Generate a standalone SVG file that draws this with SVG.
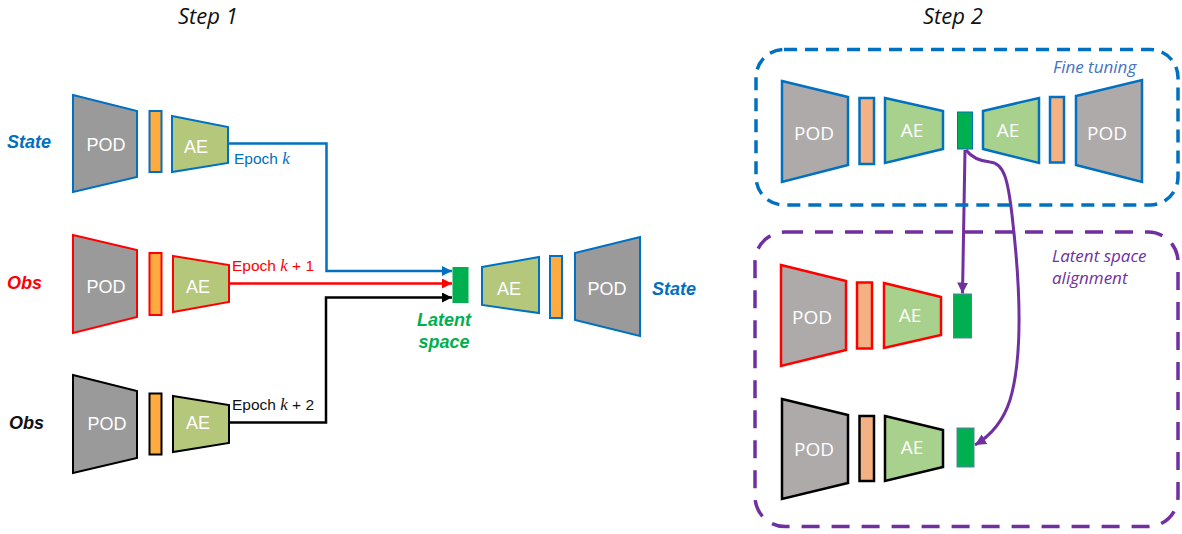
<svg xmlns="http://www.w3.org/2000/svg" width="1182" height="534" viewBox="0 0 1182 534">
<style>
.title{font-family:"Open Sans","Liberation Sans",sans-serif;font-style:italic;font-size:22px;fill:#111}
.lbl{font-family:"Liberation Sans",Arial,sans-serif;font-weight:bold;font-style:italic;font-size:18px}
.w1{font-family:"Liberation Sans",Arial,sans-serif;font-size:18px;fill:#fff;text-anchor:middle}
.w2{font-family:"Open Sans","Liberation Sans",sans-serif;font-size:19px;fill:#fff;text-anchor:middle}
.ep{font-family:"Liberation Sans",Arial,sans-serif;font-size:15.5px}
.mk{font-family:"Liberation Serif","Times New Roman",serif;font-style:italic}
.note{font-family:"Open Sans","Liberation Sans",sans-serif;font-style:italic;font-size:17px}
.pod1{fill:#9a9a9a;stroke-width:2}
.bar1{fill:#ffab40;stroke-width:2}
.ae1{fill:#b5c77b;stroke-width:2}
.pod2{fill:#aeaaaa;stroke-width:2.5}
.bar2{fill:#f4b183;stroke-width:2.5}
.ae2{fill:#a9d18e;stroke-width:2.5}
.lat{fill:#00b050}
.blue{stroke:#0070c0}
.red{stroke:#ff0000}
.blk{stroke:#000000}
.conn{fill:none;stroke-width:2.5}
</style>
<defs>
<marker id="ab" viewBox="0 0 10 10" refX="10" refY="5" markerWidth="11" markerHeight="10" markerUnits="userSpaceOnUse" orient="auto"><path d="M0,0 L10,5 L0,10 z" fill="#0070c0"/></marker>
<marker id="ar" viewBox="0 0 10 10" refX="10" refY="5" markerWidth="11" markerHeight="10" markerUnits="userSpaceOnUse" orient="auto"><path d="M0,0 L10,5 L0,10 z" fill="#ff0000"/></marker>
<marker id="ak" viewBox="0 0 10 10" refX="10" refY="5" markerWidth="11" markerHeight="10" markerUnits="userSpaceOnUse" orient="auto"><path d="M0,0 L10,5 L0,10 z" fill="#000000"/></marker>
<marker id="ap" viewBox="0 0 10 10" refX="10" refY="5" markerWidth="11" markerHeight="12" markerUnits="userSpaceOnUse" orient="auto"><path d="M0,0 L10,5 L0,10 z" fill="#7030a0"/></marker>
</defs>

<text class="title" x="178" y="24">Step 1</text>
<text class="title" x="923" y="24">Step 2</text>

<!-- Step 1 -->
<g id="state-enc">
<text class="lbl" x="7" y="148" fill="#0070c0">State</text>
<polygon class="pod1 blue" points="73,95 137,111 137,177 73,192"/>
<rect class="bar1 blue" x="149.5" y="111" width="12" height="61"/>
<polygon class="ae1 blue" points="172,116 228,127 228,163 172,172"/>
<text class="w1" x="106" y="150.5">POD</text>
<text class="w1" x="196" y="153">AE</text>
</g>
<g id="obs-enc-1">
<text class="lbl" x="7" y="289" fill="#ff0000">Obs</text>
<polygon class="pod1 red" points="73,235 137,250 137,317 73,333"/>
<rect class="bar1 red" x="149.5" y="253" width="12" height="62"/>
<polygon class="ae1 red" points="173,256 229,265 229,302 173,312"/>
<text class="w1" x="106" y="292.5">POD</text>
<text class="w1" x="198" y="293">AE</text>
</g>
<g id="obs-enc-2">
<text class="lbl" x="9" y="429" fill="#111">Obs</text>
<polygon class="pod1 blk" points="73,375 137,391 137,458 73,473"/>
<rect class="bar1 blk" x="149.5" y="393.5" width="12" height="61"/>
<polygon class="ae1 blk" points="173,396 229,405 229,443 173,452"/>
<text class="w1" x="107" y="430">POD</text>
<text class="w1" x="198" y="429">AE</text>
</g>
<g id="latent-1">
<rect class="lat" x="452.5" y="267" width="16" height="36"/>
<text class="lbl" x="444" y="326" fill="#00b050" text-anchor="middle">Latent</text>
<text class="lbl" x="444" y="348" fill="#00b050" text-anchor="middle">space</text>
</g>
<g id="state-dec">
<polygon class="pod1 blue" points="482,267 539,257 539,313 482,305" style="fill:#b5c77b"/>
<rect class="bar1 blue" x="550" y="256" width="12" height="62"/>
<polygon class="pod1 blue" points="575,253 640,237 640,336 575,320"/>
<text class="w1" x="509" y="295">AE</text>
<text class="w1" x="607" y="295">POD</text>
<text class="lbl" x="652" y="295" fill="#0070c0">State</text>
</g>

<g id="connectors">
<path class="conn" stroke="#0070c0" d="M228,143.5 H326.5 V271 H452" marker-end="url(#ab)"/>
<path class="conn" stroke="#ff0000" d="M229,283.5 H452" marker-end="url(#ar)"/>
<path class="conn" stroke="#000000" d="M229,422.5 H326 V297.5 H452" marker-end="url(#ak)"/>
<text class="ep" x="234" y="164" fill="#0070c0">Epoch <tspan class="mk" font-size="17">k</tspan></text>
<text class="ep" x="232" y="271" fill="#ff0000">Epoch <tspan class="mk" font-size="17">k</tspan> + 1</text>
<text class="ep" x="232" y="410" fill="#111">Epoch <tspan class="mk" font-size="17">k</tspan> + 2</text>
<path d="M965,150 L962.5,293.5" fill="none" stroke="#7030a0" stroke-width="3" marker-end="url(#ap)"/>
<path d="M966,150 C972,158 980,161 990,162 C1004,163 1008,180 1012,215 C1022,300 1022,360 1010,400 C1003,422 990,436 975,445" fill="none" stroke="#7030a0" stroke-width="3" marker-end="url(#ap)"/>
</g>

<!-- Step 2 -->
<g id="fine-tuning">
<rect x="756" y="49.5" width="422" height="155.5" rx="28" fill="none" stroke="#0070c0" stroke-width="3.5" stroke-dasharray="13 8"/>
<text class="note" x="1053" y="73" fill="#4472c4">Fine tuning</text>
</g>
<g id="ft-state-enc">
<polygon class="pod2 blue" points="782,81 848,97 848,165 782,182"/>
<rect class="bar2 blue" x="859.5" y="98" width="14.5" height="66"/>
<polygon class="ae2 blue" points="885,98 943,111 943,149 885,163"/>
<text class="w2" x="814" y="139.5">POD</text>
<text class="w2" x="912" y="137">AE</text>
</g>
<g id="ft-latent">
<rect class="lat" x="957.5" y="112" width="15" height="37" stroke="#0070c0" stroke-width="1"/>
</g>
<g id="ft-state-dec">
<polygon class="ae2 blue" points="983,111 1039,98 1039,163 983,149"/>
<rect class="bar2 blue" x="1050" y="97" width="14" height="65.5"/>
<polygon class="pod2 blue" points="1076,96 1142,80 1142,182 1076,165"/>
<text class="w2" x="1008" y="136.5">AE</text>
<text class="w2" x="1107" y="140">POD</text>
</g>

<g id="alignment">
<rect x="755" y="232" width="423" height="294.5" rx="30" fill="none" stroke="#7030a0" stroke-width="3.5" stroke-dasharray="18 12"/>
<text class="note" x="1052" y="261.5" fill="#7030a0">Latent space</text>
<text class="note" x="1052" y="284" fill="#7030a0">alignment</text>
</g>
<g id="al-obs-1">
<polygon class="pod2 red" points="781,265 846,281 846,350 781,366"/>
<rect class="bar2 red" x="857" y="282.5" width="15" height="66"/>
<polygon class="ae2 red" points="884,283 941,297 941,335 884,348"/>
<text class="w2" x="812" y="323.5">POD</text>
<text class="w2" x="910" y="322">AE</text>
<rect class="lat" x="953.5" y="294" width="18" height="44" stroke="#5a7fa0" stroke-width="1"/>
</g>
<g id="al-obs-2">
<polygon class="pod2 blk" points="782,399 848,415 848,483 782,499"/>
<rect class="bar2 blk" x="859.5" y="416" width="14.5" height="65"/>
<polygon class="ae2 blk" points="885,416 943,430 943,467 885,481"/>
<text class="w2" x="814" y="456">POD</text>
<text class="w2" x="912" y="454">AE</text>
<rect class="lat" x="957" y="428" width="17" height="39" stroke="#5a7fa0" stroke-width="1"/>
</g>
</svg>
